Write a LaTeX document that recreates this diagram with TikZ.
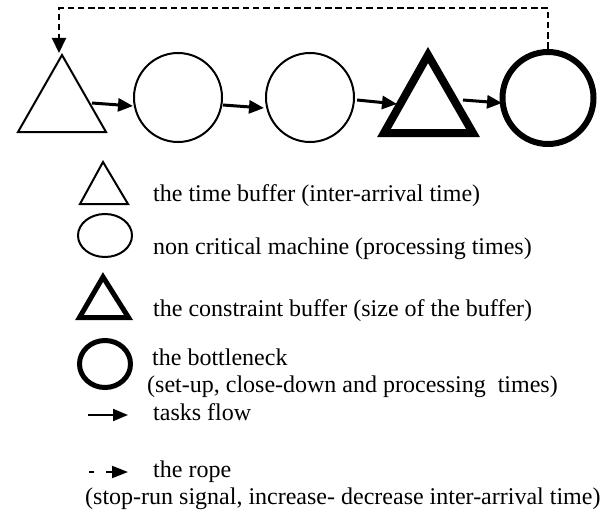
\documentclass[tikz,border=0pt]{standalone}
\usepackage{fontspec}
\setmainfont{Liberation Serif}
\usetikzlibrary{arrows.meta,shapes.geometric}
\begin{document}
\begin{tikzpicture}[x=1pt,y=-1pt,
  thintri/.style={draw, line width=2pt, line join=miter},
  thicktri/.style={draw, line width=8pt, line join=miter},
  mach/.style={ellipse, draw, line width=2pt, inner sep=0pt, minimum width=88pt, minimum height=89pt},
  bneck/.style={ellipse, draw, line width=6pt, inner sep=0pt, minimum width=91pt, minimum height=92pt},
  flow/.style={line width=3pt, -{Triangle[length=15pt,width=13pt]}},
  rope/.style={line width=2pt, dash pattern=on 6.5pt off 3.8pt, -{Triangle[length=15pt,width=14pt]}},
  flowleg/.style={line width=2pt, -{Triangle[length=15pt,width=12pt]}},
  ropeleg/.style={line width=2pt, dash pattern=on 5pt off 12pt on 40pt, -{Triangle[length=16pt,width=12pt]}},
  lbl/.style={anchor=base west, inner sep=0pt, font=\fontsize{24}{28}\selectfont}]
\useasboundingbox (0,0) rectangle (613,511);

% ---- top row ----
\coordinate (t1a) at (62,55);
\coordinate (t1l) at (18,132);
\coordinate (t1r) at (106,132);
\draw[thintri] (t1a) -- (t1l) -- (t1r) -- cycle;

\node[mach] (m1) at (178,97.5) {};
\node[mach] (m2) at (310,97.5) {};

\coordinate (t2a) at (428,55);
\coordinate (t2l) at (384,133);
\coordinate (t2r) at (473,133);
\draw[thicktri] (t2a) -- (t2l) -- (t2r) -- cycle;

\node[bneck] (bn) at (548,98) {};

\coordinate (a1s) at (92,103);  \coordinate (a1e) at (133,106);
\coordinate (a2s) at (223,105); \coordinate (a2e) at (264,108);
\coordinate (a3s) at (357,100); \coordinate (a3e) at (397,104);
\coordinate (a4s) at (463,100); \coordinate (a4e) at (502,103);
\draw[flow] (a1s) -- (a1e);
\draw[flow] (a2s) -- (a2e);
\draw[flow] (a3s) -- (a3e);
\draw[flow] (a4s) -- (a4e);

\coordinate (ropeend) at (59,53);
\draw[rope] (bn.north) -- ++(0,-41) -| (ropeend);

% ---- legend ----
\coordinate (l1a) at (103,162);
\coordinate (l1l) at (80,204);
\coordinate (l1r) at (128,204);
\draw[thintri] (l1a) -- (l1l) -- (l1r) -- cycle;

\node[ellipse, draw, line width=2pt, inner sep=0pt, minimum width=54pt, minimum height=43pt] (lm) at (105,235.5) {};

\coordinate (l2a) at (103,277);
\coordinate (l2l) at (79.5,317.5);
\coordinate (l2r) at (128.5,317.5);
\draw[draw, line width=5pt, line join=miter] (l2a) -- (l2l) -- (l2r) -- cycle;

\node[ellipse, draw, line width=5pt, inner sep=0pt, minimum width=51pt, minimum height=47pt] (lb) at (105,364) {};

\coordinate (lf1) at (88,415); \coordinate (lf2) at (128,415);
\draw[flowleg] (lf1) -- (lf2);
\coordinate (lr1) at (89,472); \coordinate (lr2) at (128,472);
\draw[ropeleg] (lr1) -- (lr2);

\node[lbl] (x1) at (153,201) {the time buffer (inter-arrival time)};
\node[lbl] (x2) at (153,254) {non critical machine (processing times)};
\node[lbl] (x3) at (153,316) {the constraint buffer (size of the buffer)};
\node[lbl] (x4) at (152,365) {the bottleneck};
\node[lbl] (x5) at (147,392) {(set-up, close-down and processing\ \ times)};
\node[lbl] (x6) at (153,420) {tasks flow};
\node[lbl] (x7) at (153,477) {the rope};
\node[lbl] (x8) at (85,504) {(stop-run signal, increase- decrease inter-arrival time)};
\end{tikzpicture}
\end{document}
